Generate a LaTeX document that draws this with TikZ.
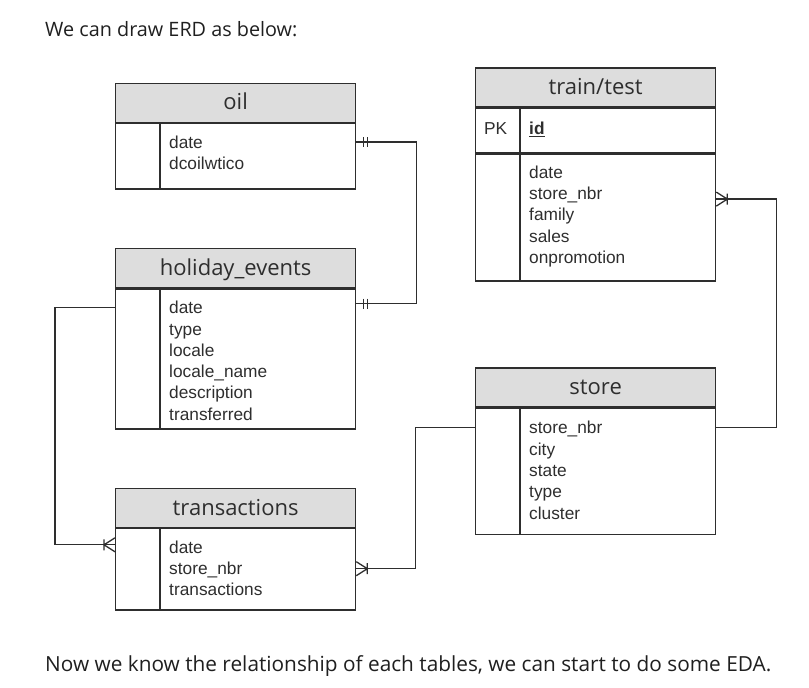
\documentclass[tikz,border=0pt]{standalone}
\usepackage{fontspec}
\setmainfont{Liberation Sans}
\newfontfamily\uifont{Open Sans}
\usetikzlibrary{calc}
\definecolor{hdrfill}{HTML}{DDDDDD}
\definecolor{ink}{HTML}{2E2E2E}
\definecolor{prosecol}{HTML}{1F1F1F}
\begin{document}
\begin{tikzpicture}[x=1pt,y=-1pt,
  box/.style={draw=ink, line width=1.3pt, inner sep=0pt, anchor=north west, minimum width=240pt},
  hdr/.style={box, fill=hdrfill, minimum height=39pt, font=\uifont\fontsize{22}{26}\selectfont, text=ink, text height=15pt, text depth=0.5pt},
  fld/.style={anchor=west, inner sep=0pt, text height=12.5pt, text depth=0pt, font=\fontsize{17.3}{20}\selectfont, text=ink},
  rel/.style={draw=ink, line width=1.3pt},
  prose/.style={anchor=base west, inner sep=0pt, text=prosecol},
  mone/.pic={\draw[rel] (7,-5)--(7,5) (11.5,-5)--(11.5,5);},
  many/.pic={\draw[rel] (0,-7)--(11,0)--(0,7) (11,-5.5)--(11,5.5);}
]
\useasboundingbox (0,0) rectangle (809,688);

% texts
\node[prose, font=\uifont\fontsize{19.8}{23}\selectfont] (intro) at (45,36.5) {We can draw ERD as below:};
\node[prose, font=\uifont\fontsize{20.8}{24}\selectfont] (outro) at (45,671) {Now we know the relationship of each tables, we can start to do some EDA.};

% oil
\node[hdr] (oilH) at (115,82.5) {oil};
\node[box, minimum height=65.5pt] (oilB) at (oilH.south west) {};
\draw[rel] ($(oilB.north west)+(45,0)$) -- ($(oilB.south west)+(45,0)$);
\node[fld] (oil-date) at (169,142) {date};
\node[fld] (oil-dco) at (169,163) {dcoilwtico};

% holiday_events
\node[hdr] (holH) at (115,248) {holiday\_events};
\node[box, minimum height=140pt] (holB) at (holH.south west) {};
\draw[rel] ($(holB.north west)+(45,0)$) -- ($(holB.south west)+(45,0)$);
\node[fld] (hol-date) at (169,307.5) {date};
\node[fld] (hol-type) at (169,328.8) {type};
\node[fld] (hol-loc) at (169,350.1) {locale};
\node[fld] (hol-locn) at (169,371.4) {locale\_name};
\node[fld] (hol-desc) at (169,392.7) {description};
\node[fld] (hol-tr) at (169,414) {transferred};

% transactions
\node[hdr] (trH) at (115,487.7) {transactions};
\node[box, minimum height=81.3pt] (trB) at (trH.south west) {};
\draw[rel] ($(trB.north west)+(45,0)$) -- ($(trB.south west)+(45,0)$);
\node[fld] (tr-date) at (169,547) {date};
\node[fld] (tr-store) at (169,568.3) {store\_nbr};
\node[fld] (tr-tr) at (169,589.6) {transactions};

% train/test
\node[hdr] (ttH) at (475,67.3) {train/test};
\node[box, minimum height=44.7pt] (ttK) at (ttH.south west) {};
\node[box, minimum height=126.6pt] (ttB) at (ttK.south west) {};
\draw[rel] ($(ttK.north west)+(45,0)$) -- ($(ttB.south west)+(45,0)$);
\node[fld] (tt-pk) at (484,128.5) {PK};
\node[fld, font=\fontsize{17.3}{20}\selectfont\bfseries] (tt-id) at (529,128.5) {\underline{id}};
\node[fld] (tt-date) at (529,172) {date};
\node[fld] (tt-store) at (529,193.3) {store\_nbr};
\node[fld] (tt-fam) at (529,214.6) {family};
\node[fld] (tt-sales) at (529,235.9) {sales};
\node[fld] (tt-promo) at (529,257.2) {onpromotion};

% store
\node[hdr] (stH) at (475,367.3) {store};
\node[box, minimum height=126pt] (stB) at (stH.south west) {};
\draw[rel] ($(stB.north west)+(45,0)$) -- ($(stB.south west)+(45,0)$);
\node[fld] (st-store) at (529,427.7) {store\_nbr};
\node[fld] (st-city) at (529,449) {city};
\node[fld] (st-state) at (529,470.3) {state};
\node[fld] (st-type) at (529,491.6) {type};
\node[fld] (st-cl) at (529,512.9) {cluster};

% connectors
\coordinate (oilR) at (oil-date -| oilB.east);
\coordinate (holR) at ($(holB.north east)+(0,15.3)$);
\draw[rel] (oilR) -| ($(holR)+(60.5,0)$) -- (holR);
\pic at (oilR) {mone};
\pic at (holR) {mone};

\coordinate (holL) at (hol-date -| holB.west);
\coordinate (trL) at ($(trB.north west)+(0,16.8)$);
\draw[rel] (holL) -| ($(trL)+(-60,0)$) -- (trL);
\pic[xscale=-1] at (trL) {many};

\coordinate (trR) at ($(trB.north east)+(0,40.7)$);
\coordinate (stL) at ($(stB.north west)+(0,20)$);
\draw[rel] (trR) -| ($(stL)+(-59.5,0)$) -- (stL);
\pic at (trR) {many};

\coordinate (stR) at ($(stB.north east)+(0,20)$);
\coordinate (ttR) at ($(ttB.north east)+(0,45.5)$);
\draw[rel] (stR) -| ($(ttR)+(60.5,0)$) -- (ttR);
\pic at (ttR) {many};
\end{tikzpicture}
\end{document}
